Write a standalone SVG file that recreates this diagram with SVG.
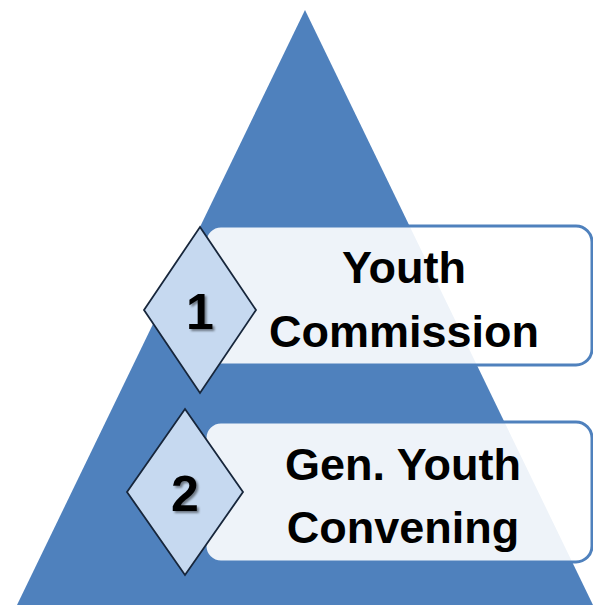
<svg xmlns="http://www.w3.org/2000/svg" width="593" height="605" viewBox="0 0 593 605">
<defs>
<filter id="sh" x="-30%" y="-30%" width="160%" height="160%">
<feDropShadow dx="2" dy="2" stdDeviation="1.2" flood-color="#000" flood-opacity="0.45"/>
</filter>
</defs>
<style>
.lbl{font-family:"Liberation Sans",Arial,sans-serif;font-weight:bold;font-size:45px;fill:#000;text-anchor:middle}
.num{font-family:"Liberation Sans",Arial,sans-serif;font-weight:bold;font-size:50px;fill:#000;text-anchor:middle}
.box{fill:#fff;fill-opacity:0.9;stroke:#4F81BD;stroke-width:3}
.dia{fill:#C6D9F0;stroke:#17263B;stroke-width:1.8}
</style>
<g id="pyramid">
<polygon points="305,10 17,605 593,605" fill="#4F81BD"/>
</g>
<g id="connectors"></g>
<g id="node1">
<rect class="box" x="205" y="226" width="387" height="139" rx="16"/>
<text class="lbl" x="404" y="283">Youth</text>
<text class="lbl" x="404" y="347">Commission</text>
</g>
<g id="node2">
<rect class="box" x="205" y="422" width="387" height="140" rx="16"/>
<text class="lbl" x="403" y="480">Gen. Youth</text>
<text class="lbl" x="403" y="543">Convening</text>
</g>
<g id="diamond1">
<polygon class="dia" points="200,227 256,310 200,393 144,310"/>
<text class="num" x="200" y="329" filter="url(#sh)">1</text>
</g>
<g id="diamond2">
<polygon class="dia" points="185,409 243,492 185,575 127,492"/>
<text class="num" x="185" y="511" filter="url(#sh)">2</text>
</g>
</svg>
